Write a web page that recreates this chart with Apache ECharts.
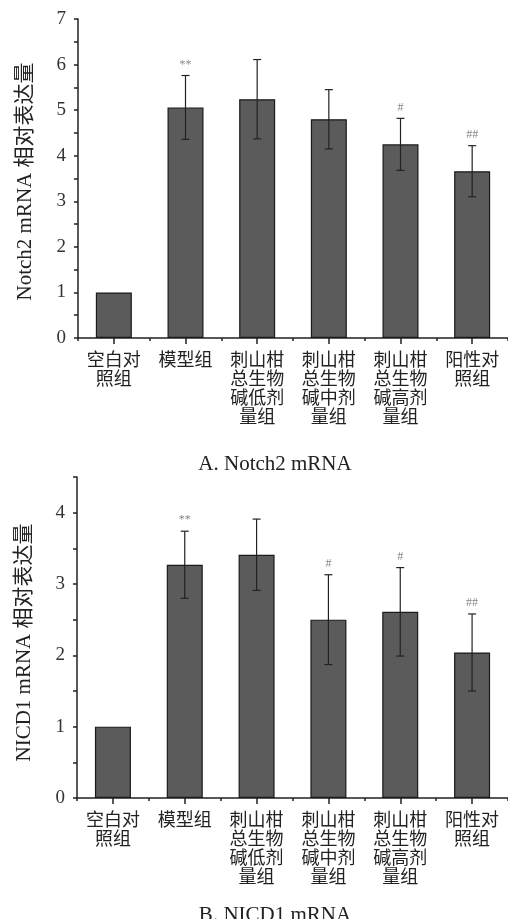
<!DOCTYPE html>
<html>
<head>
<meta charset="utf-8">
<script src="https://cdn.jsdelivr.net/npm/echarts@6/dist/echarts.min.js"></script>
<style>
html, body { margin: 0; padding: 0; background: #fff; }
#chart { width: 508px; height: 919px; }
</style>
</head>
<body>
<div id="chart"></div>
<script>
// 分组
const categories = ['空白对\n照组', '模型组', '刺山柑\n总生物\n碱低剂\n量组', '刺山柑\n总生物\n碱中剂\n量组', '刺山柑\n总生物\n碱高剂\n量组', '阳性对\n照组']

// A. Notch2 mRNA
const notchMean = [1.0, 5.06, 5.24, 4.80, 4.25, 3.66]
const notchErr = [0, 0.70, 0.87, 0.65, 0.57, 0.56]
const notchSig = ['', '**', '', '', '#', '##']
const notchMax = 7

// B. NICD1 mRNA
const nicdMean = [1.0, 3.27, 3.41, 2.50, 2.61, 2.04]
const nicdErr = [0, 0.47, 0.50, 0.63, 0.62, 0.54]
const nicdSig = ['', '**', '', '#', '#', '##']
const nicdMax = 4.5

const serif = "'Liberation Serif', 'Noto Sans CJK SC', serif"
const cjk = "'Noto Sans CJK SC', 'Liberation Serif', serif"

const grids = [
  { left: 78, top: 19, width: 435, height: 319 },
  { left: 77, top: 477, width: 435, height: 321 }
]

function makeX(gridIndex, withLabels) {
  return {
    type: 'category',
    gridIndex: gridIndex,
    position: 'bottom',
    data: categories,
    axisLine: { show: withLabels, lineStyle: { color: '#222', width: 1.5 } },
    axisTick: withLabels
      ? { show: true, alignWithLabel: true, inside: false, length: 6, lineStyle: { color: '#222', width: 1.5 } }
      : { show: true, inside: false, length: 3, lineStyle: { color: '#222', width: 1.5 } },
    axisLabel: withLabels
      ? { show: true, margin: 12, color: '#222', fontSize: 18, lineHeight: 19, fontFamily: cjk, interval: 0 }
      : { show: false },
    splitLine: { show: false }
  }
}

function makeY(gridIndex, max, name, gap, shift) {
  return {
    type: 'value',
    gridIndex: gridIndex,
    min: 0,
    max: max,
    interval: 0.5,
    name: name,
    nameLocation: 'middle',
    nameGap: gap,
    nameTextStyle: { color: '#222', fontSize: 21, fontFamily: serif, padding: [0, shift, 0, 0] },
    axisLine: { show: true, lineStyle: { color: '#222', width: 1.5 } },
    axisTick: { show: true, length: 4, lineStyle: { color: '#222', width: 1.5 } },
    axisLabel: {
      color: '#333', fontSize: 19, fontFamily: serif, margin: 12,
      formatter: v => (Number.isInteger(v) ? String(v) : '')
    },
    splitLine: { show: false }
  }
}

function errorSeries(idx, mean, err, sig) {
  return {
    type: 'custom',
    xAxisIndex: idx * 2,
    yAxisIndex: idx,
    clip: false,
    z: 5,
    data: mean.map((m, i) => [i, m, err[i]]),
    renderItem: (params, api) => {
      const i = api.value(0)
      const m = api.value(1)
      const e = api.value(2)
      const s = sig[i]
      const children = []
      const top = api.coord([i, m + e])
      if (e > 0) {
        const bot = api.coord([i, m - e])
        const style = { stroke: '#222', lineWidth: 1.2 }
        children.push({ type: 'line', shape: { x1: top[0], y1: top[1], x2: bot[0], y2: bot[1] }, style })
        children.push({ type: 'line', shape: { x1: top[0] - 4, y1: top[1], x2: top[0] + 4, y2: top[1] }, style })
        children.push({ type: 'line', shape: { x1: bot[0] - 4, y1: bot[1], x2: bot[0] + 4, y2: bot[1] }, style })
      }
      if (s) {
        children.push({
          type: 'text',
          style: {
            x: top[0], y: top[1] - 11, text: s, fill: '#888',
            font: '12px ' + serif, align: 'center', verticalAlign: 'middle'
          }
        })
      }
      return { type: 'group', children }
    }
  }
}

function barSeries(idx, mean) {
  return {
    type: 'bar',
    xAxisIndex: idx * 2,
    yAxisIndex: idx,
    data: mean,
    barWidth: 36,
    itemStyle: { color: '#5b5b5b', borderColor: '#1a1a1a', borderWidth: 1.2 },
    emphasis: { disabled: true }
  }
}

const option = {
  backgroundColor: '#fff',
  animation: false,
  title: [
    { text: 'A. Notch2 mRNA', left: 270, top: 449, textAlign: 'center',
      textStyle: { fontSize: 21, fontWeight: 'normal', color: '#222', fontFamily: serif } },
    { text: 'B. NICD1 mRNA', left: 270, top: 900, textAlign: 'center',
      textStyle: { fontSize: 21, fontWeight: 'normal', color: '#222', fontFamily: serif } }
  ],
  grid: grids,
  xAxis: [makeX(0, true), makeX(0, false), makeX(1, true), makeX(1, false)],
  yAxis: [
    makeY(0, notchMax, 'Notch2 mRNA 相对表达量', 42, 6),
    makeY(1, nicdMax, 'NICD1 mRNA 相对表达量', 42, 10)
  ],
  series: [
    barSeries(0, notchMean),
    errorSeries(0, notchMean, notchErr, notchSig),
    barSeries(1, nicdMean),
    errorSeries(1, nicdMean, nicdErr, nicdSig)
  ]
}

const chart = echarts.init(document.getElementById('chart'))
chart.setOption(option)
</script>
</body>
</html>
